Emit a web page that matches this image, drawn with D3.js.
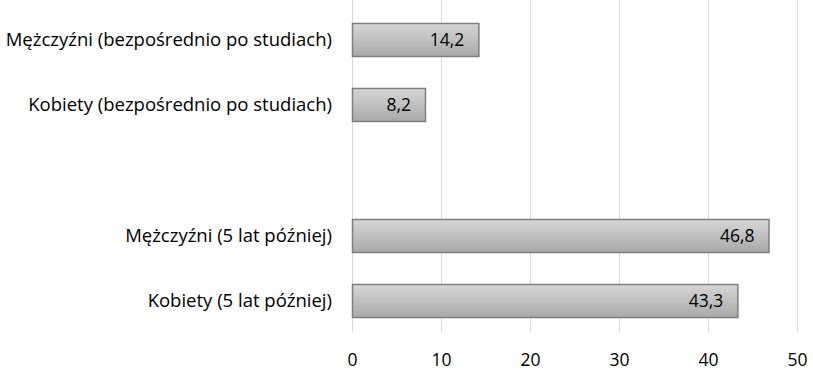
<!DOCTYPE html>
<html>
<head>
<meta charset="utf-8">
<script src="https://cdn.jsdelivr.net/npm/d3@7"></script>
<style>
  html, body { margin: 0; padding: 0; background: #fff; }
  svg { display: block; }
  text { font-family: "Open Sans", Lato, sans-serif; fill: #000; }
</style>
</head>
<body>
<svg id="chart" width="813" height="370"></svg>
<script>
// Categories (top to bottom); the empty entry leaves a gap between the groups
const categories = [
  "Mężczyźni (bezpośrednio po studiach)",
  "Kobiety (bezpośrednio po studiach)",
  "",
  "Mężczyźni (5 lat później)",
  "Kobiety (5 lat później)"
];
const values = [14.2, 8.2, null, 46.8, 43.3];
const xTicks = [0, 10, 20, 30, 40, 50];

const svg = d3.select("#chart");
const plotLeft = 352, plotRight = 797, plotTop = 7, plotBottom = 333;
const fontSize = 18;

const x = d3.scaleLinear().domain([0, 50]).range([plotLeft, plotRight]);
const y = d3.scaleBand().domain(d3.range(categories.length)).range([plotTop, plotBottom]).paddingInner(0.49).paddingOuter(0.245);

// Bar fill: light at top, darker at bottom
const defs = svg.append("defs");
const grad = defs.append("linearGradient").attr("id", "barGrad")
  .attr("x1", 0).attr("y1", 0).attr("x2", 0).attr("y2", 1);
grad.append("stop").attr("offset", "0%").attr("stop-color", "#d6d6d6");
grad.append("stop").attr("offset", "100%").attr("stop-color", "#a9a9a9");

// Vertical gridlines with ticks below the plot
svg.append("g").selectAll("line").data(xTicks).join("line")
  .attr("x1", d => x(d) + 0.5).attr("x2", d => x(d) + 0.5)
  .attr("y1", 0).attr("y2", 332)
  .attr("stroke", "#d9d9d9").attr("stroke-width", 1);

// Tick labels
svg.append("g").selectAll("text").data(xTicks).join("text")
  .attr("x", d => x(d) + 0.5).attr("y", 366)
  .attr("text-anchor", "middle").attr("font-size", fontSize - 0.5)
  .text(d => d);

const data = values.map((v, i) => ({ i, v, label: categories[i] })).filter(d => d.v !== null);

// Bars
svg.append("g").selectAll("rect").data(data).join("rect")
  .attr("x", x(0) + 0.5)
  .attr("y", d => Math.round(y(d.i)) + 0.5)
  .attr("width", d => x(d.v) - x(0))
  .attr("height", Math.round(y.bandwidth()))
  .attr("fill", "url(#barGrad)")
  .attr("stroke", "#7f7f7f").attr("stroke-width", 1.5);

// Value labels inside bar ends
svg.append("g").selectAll("text").data(data).join("text")
  .attr("x", d => x(d.v) - 14)
  .attr("y", d => y(d.i) + y.bandwidth() / 2 + 6.5)
  .attr("text-anchor", "end").attr("font-size", fontSize - 0.5)
  .text(d => d3.format(".1f")(d.v).replace(".", ","));

// Category labels
svg.append("g").selectAll("text").data(data).join("text")
  .attr("x", 332)
  .attr("y", d => y(d.i) + y.bandwidth() / 2 + 6.5)
  .attr("text-anchor", "end").attr("font-size", fontSize + 0.5)
  .text(d => d.label);
</script>
</body>
</html>
